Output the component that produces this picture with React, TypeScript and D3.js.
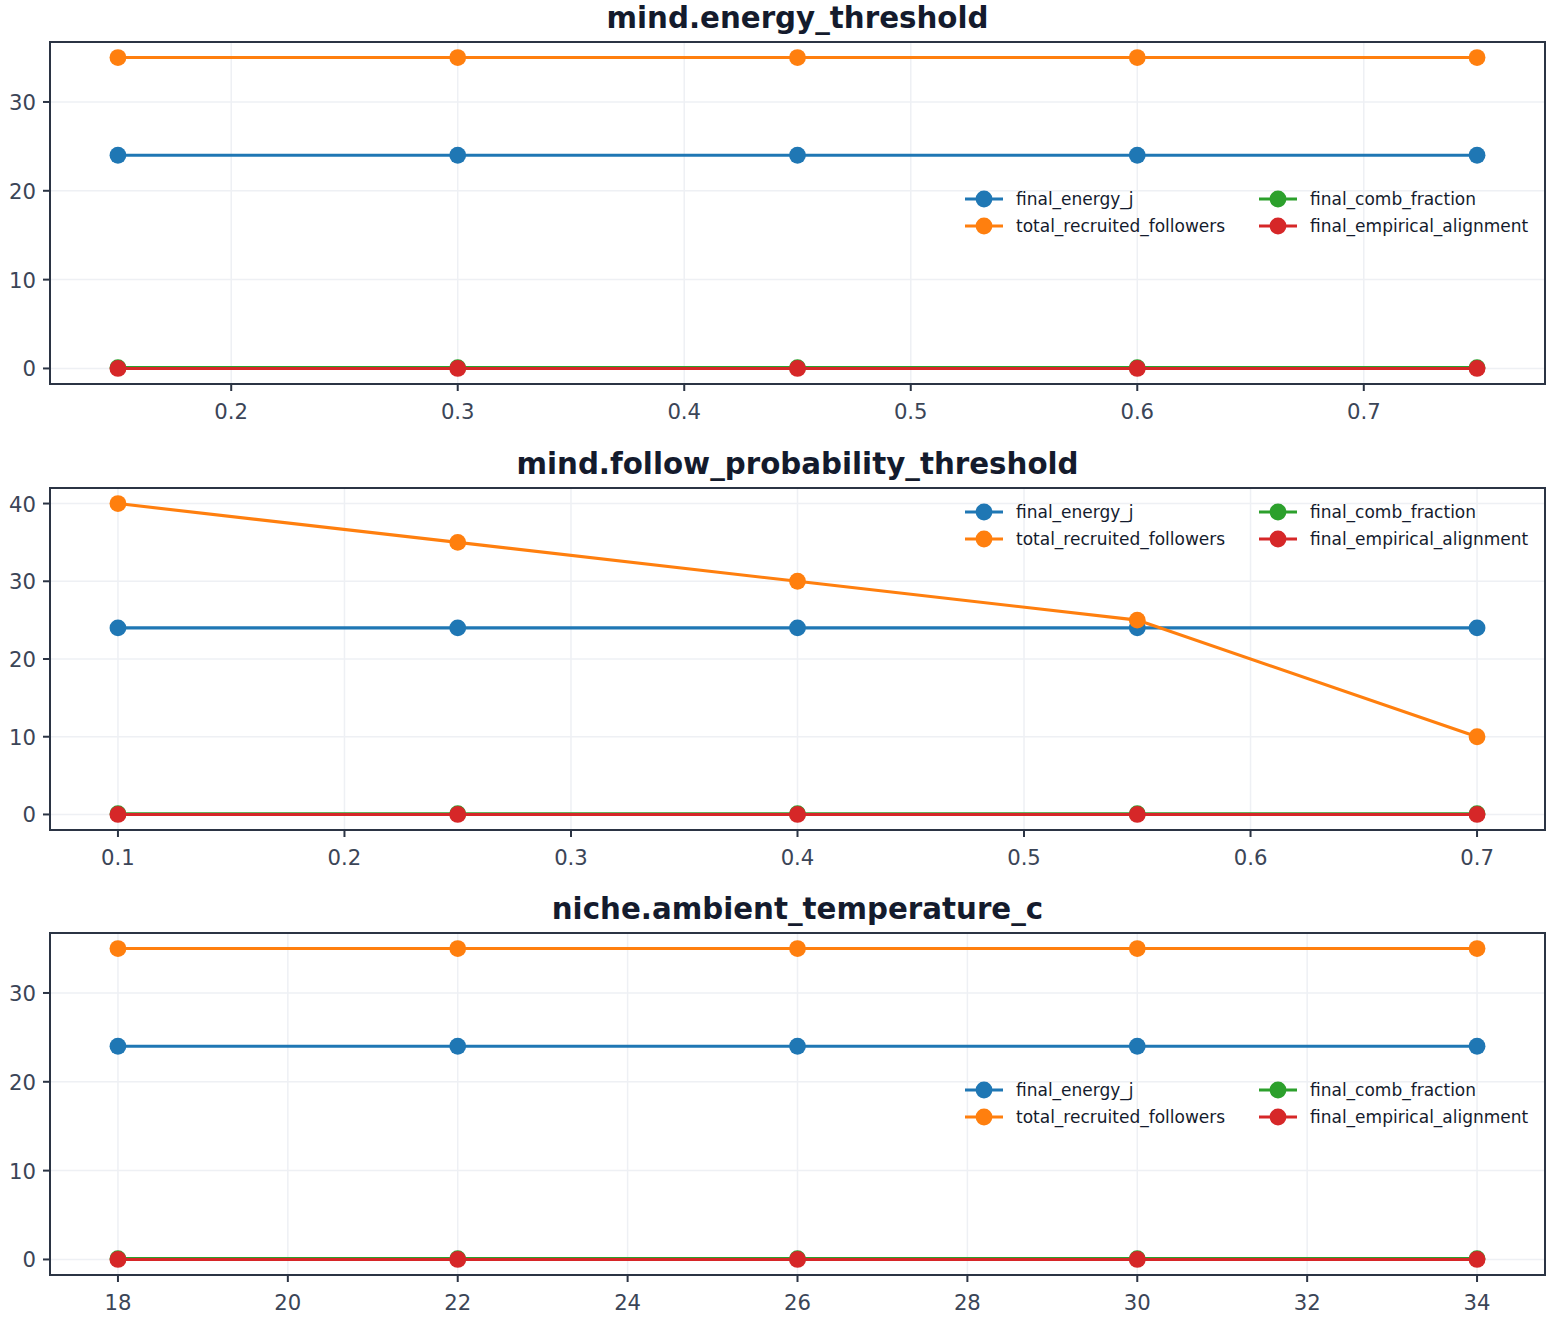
import { scaleLinear, line } from "d3";

const seriesNames = [
  "final_energy_j",
  "total_recruited_followers",
  "final_comb_fraction",
  "final_empirical_alignment",
];
const seriesColors = ["#1f77b4", "#ff7f0e", "#2ca02c", "#d62728"];

// mind.energy_threshold
const energyX = [0.15, 0.3, 0.45, 0.6, 0.75];
const energyEnergyJ = [24, 24, 24, 24, 24];
const energyFollowers = [35, 35, 35, 35, 35];
const energyComb = [0.1, 0.1, 0.1, 0.1, 0.1];
const energyAlign = [0, 0, 0, 0, 0];
const energyXTicks = [0.2, 0.3, 0.4, 0.5, 0.6, 0.7];
const energyYTicks = [0, 10, 20, 30];

// mind.follow_probability_threshold
const followX = [0.1, 0.25, 0.4, 0.55, 0.7];
const followEnergyJ = [24, 24, 24, 24, 24];
const followFollowers = [40, 35, 30, 25, 10];
const followComb = [0.1, 0.1, 0.1, 0.1, 0.1];
const followAlign = [0, 0, 0, 0, 0];
const followXTicks = [0.1, 0.2, 0.3, 0.4, 0.5, 0.6, 0.7];
const followYTicks = [0, 10, 20, 30, 40];

// niche.ambient_temperature_c
const tempX = [18, 22, 26, 30, 34];
const tempEnergyJ = [24, 24, 24, 24, 24];
const tempFollowers = [35, 35, 35, 35, 35];
const tempComb = [0.1, 0.1, 0.1, 0.1, 0.1];
const tempAlign = [0, 0, 0, 0, 0];
const tempXTicks = [18, 20, 22, 24, 26, 28, 30, 32, 34];
const tempYTicks = [0, 10, 20, 30];

const panels = [
  {
    title: "mind.energy_threshold",
    x: energyX,
    series: [energyEnergyJ, energyFollowers, energyComb, energyAlign],
    xTicks: energyXTicks,
    yTicks: energyYTicks,
    fmt: (v) => v.toFixed(1),
    legendDy: 157,
  },
  {
    title: "mind.follow_probability_threshold",
    x: followX,
    series: [followEnergyJ, followFollowers, followComb, followAlign],
    xTicks: followXTicks,
    yTicks: followYTicks,
    fmt: (v) => v.toFixed(1),
    legendDy: 24,
  },
  {
    title: "niche.ambient_temperature_c",
    x: tempX,
    series: [tempEnergyJ, tempFollowers, tempComb, tempAlign],
    xTicks: tempXTicks,
    yTicks: tempYTicks,
    fmt: (v) => String(v),
    legendDy: 157,
  },
];

const font = "DejaVu Sans, sans-serif";
const textColor = "#3b4557";
const titleColor = "#141b2d";
const spineColor = "#2b3444";
const gridColor = "#eef0f4";

const left = 50;
const right = 1545;
const tops = [42, 488, 933];
const plotH = 342;

let Panel = ({ p, top }) => {
  let xmin = Math.min(...p.x);
  let xmax = Math.max(...p.x);
  let xpad = (xmax - xmin) * 0.05;
  let allY = p.series.flat();
  let ymin = Math.min(...allY);
  let ymax = Math.max(...allY);
  let ypad = (ymax - ymin) * 0.05;

  let xScale = scaleLinear().domain([xmin - xpad, xmax + xpad]).range([left, right]);
  let yScale = scaleLinear().domain([ymin - ypad, ymax + ypad]).range([top + plotH, top]);
  let bottom = top + plotH;

  let lineGen = line()
    .x((d) => xScale(d[0]))
    .y((d) => yScale(d[1]));

  let lx = 965;
  let ly = top + p.legendDy;
  let colW = 294;
  let rowH = 27;

  return (
    <g>
      <text
        x={(left + right) / 2}
        y={top - 14}
        textAnchor="middle"
        fontFamily={font}
        fontWeight="bold"
        fontSize={29.3}
        fill={titleColor}
      >
        {p.title}
      </text>
      <rect x={left} y={top} width={right - left} height={plotH} fill="#fff" />
      <g className="grid">
        {p.xTicks.map((t) => (
          <line key={"gx" + t} x1={xScale(t)} x2={xScale(t)} y1={top} y2={bottom} stroke={gridColor} strokeWidth={1.5} />
        ))}
        {p.yTicks.map((t) => (
          <line key={"gy" + t} x1={left} x2={right} y1={yScale(t)} y2={yScale(t)} stroke={gridColor} strokeWidth={1.5} />
        ))}
      </g>
      {p.series.map((s, i) => {
        let pts = p.x.map((x, j) => [x, s[j]]);
        return (
          <g key={seriesNames[i]}>
            <path d={lineGen(pts)} fill="none" stroke={seriesColors[i]} strokeWidth={3.1} />
            {pts.map((d, j) => (
              <circle key={j} cx={xScale(d[0])} cy={yScale(d[1])} r={8.4} fill={seriesColors[i]} />
            ))}
          </g>
        );
      })}
      <rect x={left} y={top} width={right - left} height={plotH} fill="none" stroke={spineColor} strokeWidth={2} />
      <g className="axis">
        {p.xTicks.map((t) => (
          <g key={"tx" + t}>
            <line x1={xScale(t)} x2={xScale(t)} y1={bottom} y2={bottom + 7} stroke={spineColor} strokeWidth={2} />
            <text x={xScale(t)} y={bottom + 35} textAnchor="middle" fontFamily={font} fontSize={21.2} fill={textColor}>
              {p.fmt(t)}
            </text>
          </g>
        ))}
        {p.yTicks.map((t) => (
          <g key={"ty" + t}>
            <line x1={left - 7} x2={left} y1={yScale(t)} y2={yScale(t)} stroke={spineColor} strokeWidth={2} />
            <text x={left - 14} y={yScale(t) + 8} textAnchor="end" fontFamily={font} fontSize={21.2} fill={textColor}>
              {t}
            </text>
          </g>
        ))}
      </g>
      <g className="legend">
        {seriesNames.map((name, i) => {
          let col = i < 2 ? 0 : 1;
          let row = i % 2;
          let x0 = lx + col * colW;
          let y0 = ly + row * rowH;
          return (
            <g key={name}>
              <line x1={x0} x2={x0 + 38} y1={y0} y2={y0} stroke={seriesColors[i]} strokeWidth={3.1} />
              <circle cx={x0 + 19} cy={y0} r={8.4} fill={seriesColors[i]} />
              <text x={x0 + 51} y={y0 + 6} fontFamily={font} fontSize={17} fill={titleColor}>
                {name}
              </text>
            </g>
          );
        })}
      </g>
    </g>
  );
};

export default function App() {
  return (
    <svg
      width={1554}
      height={1319}
      style={{ position: "absolute", left: 0, top: 0, background: "#fff" }}
    >
      <rect width={1554} height={1319} fill="#fff" />
      {panels.map((p, i) => (
        <Panel key={p.title} p={p} top={tops[i]} />
      ))}
    </svg>
  );
}
